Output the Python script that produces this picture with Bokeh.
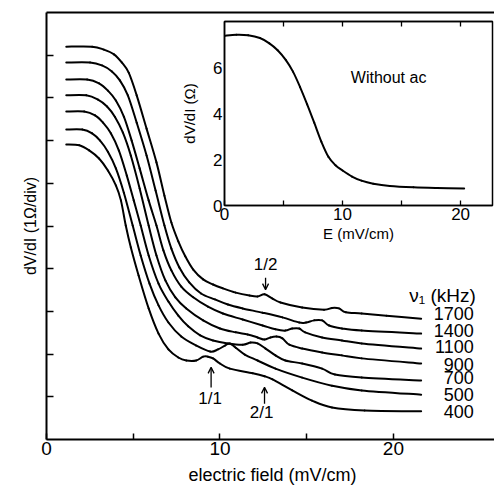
from bokeh.plotting import figure
from bokeh.models import (Range1d, FixedTicker, LinearAxis, Arrow, OpenHead,
                          ColumnDataSource, Label)
from bokeh.layouts import column
from bokeh.embed import file_html
from bokeh.resources import INLINE
from bokeh.core.properties import value

FONT = "Liberation Sans"

# ---------------- data ----------------
freqs = ["400", "500", "700", "900", "1100", "1400", "1700"]

e_400 = [1.14, 1.89, 2.46, 3.03, 3.54, 4.00, 4.29, 4.57, 4.86, 5.31, 5.89, 6.46, 7.03, 7.60, 8.06, 8.63,
         9.03, 9.31, 9.60, 10.0, 10.57, 11.89, 12.57, 13.03, 14.17, 15.31, 16.46, 18.34, 21.6]
y_400 = [6.91, 6.89, 6.77, 6.58, 6.30, 5.95, 5.60, 5.01, 4.50, 3.84, 3.07, 2.48, 2.11, 1.92, 1.85, 1.85,
         1.94, 1.94, 1.90, 1.78, 1.66, 1.55, 1.48, 1.41, 1.15, 0.91, 0.75, 0.68, 0.66]

e_500 = [1.14, 2.06, 2.63, 3.09, 3.54, 4.00, 4.46, 4.97, 5.43, 5.94, 6.46, 7.03, 7.77, 8.63, 9.43, 9.89,
         10.29, 10.57, 10.91, 11.43, 12.17, 13.2, 14.74, 16.46, 18.17, 21.6]
y_500 = [7.26, 7.26, 7.17, 7.00, 6.74, 6.35, 5.78, 5.01, 4.31, 3.65, 3.14, 2.74, 2.41, 2.20, 2.06, 2.11,
         2.20, 2.25, 2.15, 1.99, 1.85, 1.66, 1.45, 1.26, 1.15, 1.05]

e_700 = [1.14, 2.17, 2.80, 3.26, 3.71, 4.17, 4.63, 5.03, 5.43, 5.89, 6.46, 7.03, 7.60, 8.17, 8.86, 9.60,
         10.46, 11.31, 11.77, 12.17, 12.63, 13.2, 13.77, 14.74, 15.89, 16.63, 18.17, 21.6]
y_700 = [7.68, 7.68, 7.59, 7.42, 7.17, 6.77, 6.18, 5.60, 5.01, 4.31, 3.65, 3.23, 2.90, 2.65, 2.44, 2.32,
         2.25, 2.22, 2.27, 2.25, 2.13, 1.97, 1.85, 1.78, 1.66, 1.52, 1.45, 1.38]

e_900 = [1.14, 2.29, 2.97, 3.49, 3.94, 4.40, 4.86, 5.37, 5.89, 6.34, 6.86, 7.43, 8.06, 9.03, 10.0, 10.91,
         11.6, 12.17, 12.57, 12.91, 13.26, 13.6, 14.0, 14.74, 15.89, 17.03, 18.17, 21.6]
y_900 = [8.06, 8.06, 7.96, 7.80, 7.56, 7.19, 6.65, 5.88, 5.01, 4.31, 3.72, 3.33, 3.07, 2.79, 2.60, 2.51,
         2.46, 2.39, 2.34, 2.39, 2.41, 2.37, 2.22, 2.13, 2.04, 1.97, 1.90, 1.78]

e_1100 = [1.14, 2.34, 3.03, 3.54, 4.00, 4.46, 4.91, 5.37, 5.89, 6.34, 6.74, 7.2, 7.77, 8.46, 9.31, 10.17,
          11.31, 12.46, 13.2, 13.77, 14.17, 14.57, 14.91, 15.89, 17.03, 18.17, 21.6]
y_1100 = [8.43, 8.43, 8.34, 8.17, 7.94, 7.56, 7.00, 6.35, 5.60, 5.01, 4.43, 3.96, 3.58, 3.33, 3.11, 2.95,
          2.81, 2.67, 2.58, 2.55, 2.60, 2.60, 2.51, 2.39, 2.32, 2.25, 2.13]

e_1400 = [1.14, 2.51, 3.2, 3.77, 4.23, 4.69, 5.2, 5.77, 6.29, 6.8, 7.2, 7.66, 8.23, 8.91, 9.71, 10.46,
          11.31, 12.46, 13.6, 14.57, 14.97, 15.43, 15.89, 16.29, 17.03, 18.17, 21.6]
y_1400 = [8.83, 8.83, 8.76, 8.62, 8.41, 8.06, 7.42, 6.65, 5.83, 5.01, 4.47, 4.03, 3.68, 3.42, 3.28, 3.16,
          3.07, 2.97, 2.86, 2.74, 2.74, 2.79, 2.79, 2.67, 2.60, 2.55, 2.48]

e_1700 = [1.14, 2.63, 3.31, 3.89, 4.34, 4.74, 5.2, 5.77, 6.34, 6.8, 7.2, 7.6, 8.0, 8.46, 9.03, 9.6,
          10.17, 10.91, 11.71, 12.17, 12.57, 13.03, 13.49, 14.74, 16.0, 16.46, 16.86, 17.26, 18.17, 19.6, 21.6]
y_1700 = [9.20, 9.20, 9.13, 9.02, 8.83, 8.59, 8.06, 7.28, 6.49, 5.71, 5.08, 4.64, 4.29, 3.98, 3.75, 3.63,
          3.54, 3.44, 3.37, 3.35, 3.40, 3.30, 3.21, 3.09, 3.04, 3.08, 3.07, 2.98, 2.95, 2.90, 2.83]

curves_e = [e_400, e_500, e_700, e_900, e_1100, e_1400, e_1700]
curves_y = [y_400, y_500, y_700, y_900, y_1100, y_1400, y_1700]

# inset: dV/dI (ohm) without ac
inset_e = [0.0, 1.0, 2.0, 3.0, 3.8, 4.5, 5.2, 5.8, 6.4, 7.0, 7.6, 8.2, 8.8, 9.4, 10.0, 10.8, 11.6,
           12.6, 14.0, 16.0, 18.0, 20.3]
inset_r = [7.38, 7.42, 7.40, 7.28, 7.05, 6.75, 6.32, 5.82, 5.15, 4.40, 3.60, 2.78, 2.12, 1.75, 1.52,
           1.26, 1.08, 0.95, 0.85, 0.79, 0.76, 0.74]

main_x_major = [0, 10, 20]
main_x_minor = [5, 15]
main_y_ticks = [1, 2, 3, 4, 5, 6, 7, 8, 9]
inset_x_major = [0, 10, 20]
inset_x_minor = [5, 15]
inset_top_ticks = [5, 10, 15, 20]
inset_y_ticks = [0, 2, 4, 6]


def catmull_rom(xs, ys):
    """Bezier control points so the library draws a smooth path through the read points."""
    n = len(xs)
    d = dict(x0=[], y0=[], x1=[], y1=[], cx0=[], cy0=[], cx1=[], cy1=[])
    for i in range(n - 1):
        a, b, c, e = max(i - 1, 0), i, i + 1, min(i + 2, n - 1)
        d["x0"].append(xs[b]); d["y0"].append(ys[b])
        d["x1"].append(xs[c]); d["y1"].append(ys[c])
        d["cx0"].append(xs[b] + (xs[c] - xs[a]) / 6); d["cy0"].append(ys[b] + (ys[c] - ys[a]) / 6)
        d["cx1"].append(xs[c] - (xs[e] - xs[b]) / 6); d["cy1"].append(ys[c] - (ys[e] - ys[b]) / 6)
    return ColumnDataSource(d)


# ---------------- main figure ----------------
p = figure(frame_width=452, frame_height=427, x_range=Range1d(0, 26.06), y_range=Range1d(0, 10),
           min_border_left=42, min_border_right=0, min_border_top=12, min_border_bottom=51,
           output_backend="svg", toolbar_location=None, outline_line_color=None,
           x_axis_label="electric field (mV/cm)", y_axis_label="dV/dI (1Ω/div)")
p.grid.visible = False
p.background_fill_color = "white"
p.border_fill_color = "white"

for ax in (p.xaxis[0], p.yaxis[0]):
    ax.axis_line_width = 2
    ax.axis_line_color = "black"
    ax.major_tick_line_width = 1.5
    ax.minor_tick_line_width = 1.5
    ax.major_tick_out = 0
    ax.minor_tick_out = 0
    ax.axis_label_text_font = FONT
    ax.axis_label_text_font_style = "normal"
    ax.major_label_text_font = FONT
    ax.major_label_text_color = "black"
    ax.axis_label_text_color = "black"

p.xaxis.ticker = FixedTicker(ticks=main_x_major, minor_ticks=main_x_minor)
p.xaxis.major_tick_in = 6
p.xaxis.minor_tick_in = 6
p.xaxis.major_label_text_font_size = "19px"
p.xaxis.major_label_standoff = 2
p.xaxis.axis_label_text_font_size = "18px"
p.xaxis.axis_label_standoff = 7

p.yaxis.ticker = FixedTicker(ticks=[], minor_ticks=main_y_ticks)
p.yaxis.minor_tick_in = 7
p.yaxis.major_label_standoff = 0
p.yaxis.axis_label_text_font_size = "16px"
p.yaxis.axis_label_standoff = 8

top = LinearAxis(ticker=FixedTicker(ticks=[]), axis_line_width=2, major_tick_line_color=None,
                 minor_tick_line_color=None, major_label_standoff=0)
p.add_layout(top, "above")

for ex, ey in zip(curves_e, curves_y):
    p.bezier(x0="x0", y0="y0", x1="x1", y1="y1", cx0="cx0", cy0="cy0", cx1="cx1", cy1="cy1",
             source=catmull_rom(ex, ey), line_width=2, line_color="black", line_cap="round")

label_dy = [0, 0, -3, 1, -2, -3, -5]
src = ColumnDataSource(dict(x=[24.63] * len(freqs), y=[c[-1] for c in curves_y], t=freqs, dy=label_dy))
p.text(x="x", y="y", text="t", y_offset="dy", source=src, text_font=value(FONT), text_font_size="18px",
       text_align="right", text_baseline="middle", text_color="black")
p.text(x=[24.75], y=[3.37], text=["ν₁ (kHz)"], text_font=value(FONT), text_font_size="19px",
       text_align="right", text_baseline="middle", text_color="black")

# resonance annotations
ann_text = ["1/2", "1/1", "2/1"]
ann_x = [12.63, 9.43, 12.4]
ann_y = [4.10, 0.96, 0.63]
p.text(x=ann_x, y=ann_y, text=ann_text, text_font=value(FONT), text_font_size="17px",
       text_align="center", text_baseline="middle", text_color="black")
arrows = [(12.63, 3.79, 12.63, 3.51), (9.49, 1.22, 9.49, 1.69), (12.57, 0.84, 12.57, 1.22)]
for xs, ys, xe, ye in arrows:
    p.add_layout(Arrow(end=OpenHead(size=6, line_width=1.3), x_start=xs, y_start=ys, x_end=xe, y_end=ye,
                       line_width=1.3, line_color="black"))

# ---------------- inset ----------------
pi = figure(frame_width=268, frame_height=184, x_range=Range1d(0, 22.7), y_range=Range1d(0, 8.0),
            min_border_left=45, min_border_right=8, min_border_top=21, min_border_bottom=40,
            output_backend="svg", toolbar_location=None, outline_line_color="black",
            outline_line_width=1.5, background_fill_color=None, border_fill_color=None,
            x_axis_label="E (mV/cm)", y_axis_label="dV/dI (Ω)")
pi.grid.visible = False
for ax in (pi.xaxis[0], pi.yaxis[0]):
    ax.axis_line_width = 1.5
    ax.major_tick_line_width = 1.3
    ax.minor_tick_line_width = 1.3
    ax.major_tick_out = 0
    ax.minor_tick_out = 0
    ax.axis_label_text_font = FONT
    ax.axis_label_text_font_style = "normal"
    ax.major_label_text_font = FONT
    ax.major_label_text_font_size = "17px"
    ax.major_label_text_color = "black"
    ax.axis_label_text_color = "black"
    ax.axis_label_text_font_size = "15px"
pi.xaxis.ticker = FixedTicker(ticks=inset_x_major, minor_ticks=inset_x_minor)
pi.xaxis.major_tick_in = 5
pi.xaxis.minor_tick_in = 5
pi.xaxis.major_label_standoff = 2
pi.xaxis.axis_label_standoff = 2
pi.yaxis.ticker = FixedTicker(ticks=inset_y_ticks)
pi.yaxis.major_tick_in = 0
pi.yaxis.minor_tick_line_color = None
pi.yaxis.major_label_standoff = 2
pi.yaxis.axis_label_standoff = 12
itop = LinearAxis(ticker=FixedTicker(ticks=[], minor_ticks=inset_top_ticks), axis_line_width=1.5,
                  minor_tick_in=5, minor_tick_out=0, minor_tick_line_width=1.3,
                  major_tick_line_color=None, major_label_standoff=0)
pi.add_layout(itop, "above")
pi.bezier(x0="x0", y0="y0", x1="x1", y1="y1", cx0="cx0", cy0="cy0", cx1="cx1", cy1="cy1",
          source=catmull_rom(inset_e, inset_r), line_width=2, line_color="black", line_cap="round")
pi.add_layout(Label(x=13.9, y=5.55, text="Without ac", text_font=FONT, text_font_size="16px",
                    text_align="center", text_baseline="middle", text_color="black"))

pi.styles = {"position": "absolute", "left": "178px", "top": "0px"}

layout = column(p, pi)
open("out.html", "w").write(file_html(layout, INLINE))
